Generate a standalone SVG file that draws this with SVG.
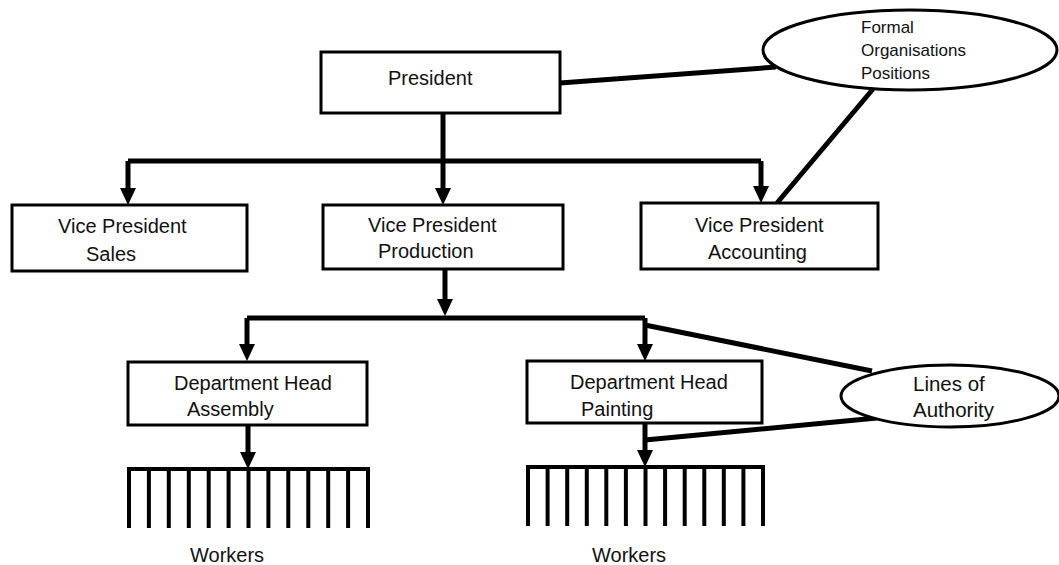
<svg xmlns="http://www.w3.org/2000/svg" width="1059" height="565" viewBox="0 0 1059 565">
<style>
.box{fill:#fff;stroke:#000;stroke-width:3}
.ell{fill:#fff;stroke:#000;stroke-width:3}
.t{font-family:"Liberation Sans",Arial,sans-serif;font-size:20px;fill:#111}
.ts{font-family:"Liberation Sans",Arial,sans-serif;font-size:17px;fill:#111}
.c{fill:none;stroke:#000;stroke-width:5}
.a{fill:none;stroke:#000;stroke-width:5;marker-end:url(#ah)}
.comb{fill:none;stroke:#000;stroke-width:4}
</style>
<defs>
<marker id="ah" markerUnits="userSpaceOnUse" markerWidth="18" markerHeight="16" refX="0" refY="8" orient="auto">
<path d="M0,0 L17,8 L0,16 z" fill="#000"/>
</marker>
</defs>
<rect width="1059" height="565" fill="#fff"/>
<g id="connectors">
<path class="c" d="M560,83 L776,67"/>
<path class="c" d="M873,89 L777,203"/>
<path class="c" d="M128,161 H761"/>
<path class="a" d="M443,113 V188"/>
<path class="a" d="M128,161 V188"/>
<path class="a" d="M761,161 V186"/>
<path class="a" d="M445,269 V299"/>
<path class="c" d="M247,318 H645"/>
<path class="a" d="M247,318 V344"/>
<path class="a" d="M645,318 V344"/>
<path class="a" d="M248,425 V452"/>
<path class="a" d="M645,423 V450"/>
<path class="c" d="M645,325 L872,371"/>
<path class="c" d="M645,440 L877,418"/>
</g>
<g id="president">
<rect class="box" x="321" y="52" width="239" height="61"/>
<text class="t" x="388" y="85">President</text>
</g>
<g id="formal-positions">
<ellipse class="ell" cx="910" cy="50" rx="147" ry="40"/>
<text class="ts" x="861" y="33">Formal</text>
<text class="ts" x="861" y="56">Organisations</text>
<text class="ts" x="861" y="79">Positions</text>
</g>
<g id="vp-sales">
<rect class="box" x="12" y="205" width="235" height="66"/>
<text class="t" x="58" y="233">Vice President</text>
<text class="t" x="86" y="261">Sales</text>
</g>
<g id="vp-production">
<rect class="box" x="323" y="205" width="240" height="64"/>
<text class="t" x="368" y="232">Vice President</text>
<text class="t" x="378" y="258">Production</text>
</g>
<g id="vp-accounting">
<rect class="box" x="641" y="203" width="237" height="66"/>
<text class="t" x="695" y="232">Vice President</text>
<text class="t" x="708" y="259">Accounting</text>
</g>
<g id="dept-assembly">
<rect class="box" x="128" y="362" width="239" height="63"/>
<text class="t" x="174" y="390">Department Head</text>
<text class="t" x="187" y="416">Assembly</text>
</g>
<g id="dept-painting">
<rect class="box" x="527" y="361" width="235" height="62"/>
<text class="t" x="570" y="389">Department Head</text>
<text class="t" x="581" y="416">Painting</text>
</g>
<g id="lines-of-authority">
<ellipse class="ell" cx="950" cy="396" rx="109" ry="31"/>
<text class="t" x="913" y="391" style="font-size:20.5px">Lines of</text>
<text class="t" x="913" y="417" style="font-size:20.5px">Authority</text>
</g>
<g id="workers-assembly">
<path class="comb" d="M129,528 V469 H368 V528 M148.9,469 V528 M168.8,469 V528 M188.8,469 V528 M208.7,469 V528 M228.6,469 V528 M248.5,469 V528 M268.4,469 V528 M288.3,469 V528 M308.3,469 V528 M328.2,469 V528 M348.1,469 V528"/>
<text class="t" x="190" y="562">Workers</text>
</g>
<g id="workers-painting">
<path class="comb" d="M528,526 V467 H763 V526 M547.6,467 V526 M567.2,467 V526 M586.8,467 V526 M606.3,467 V526 M625.9,467 V526 M645.5,467 V526 M665.1,467 V526 M684.7,467 V526 M704.3,467 V526 M723.8,467 V526 M743.4,467 V526"/>
<text class="t" x="592" y="562">Workers</text>
</g>
</svg>
